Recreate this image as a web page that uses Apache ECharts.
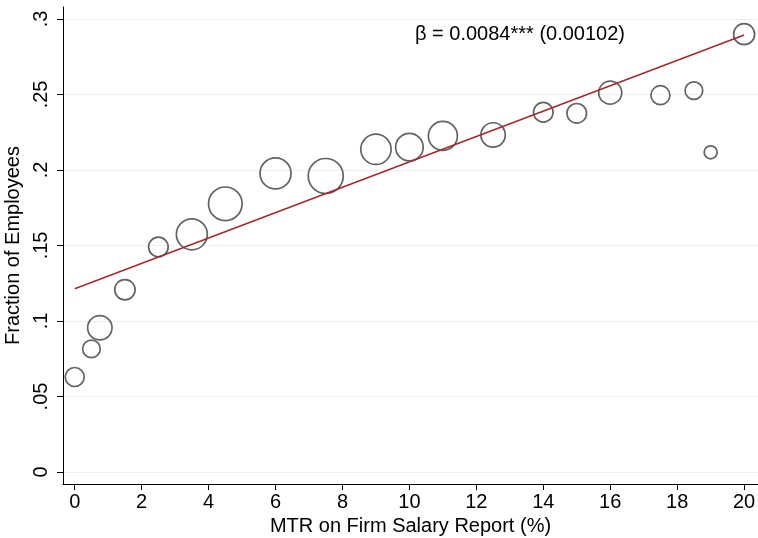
<!DOCTYPE html>
<html>
<head>
<meta charset="utf-8">
<script src="https://cdn.jsdelivr.net/npm/echarts@6/dist/echarts.min.js"></script>
<style>
  html, body { margin: 0; padding: 0; background: #fff; }
  #chart-container { width: 758px; height: 538px; }
</style>
</head>
<body>
<div id="chart-container"></div>
<script>
var dom = document.getElementById('chart-container');
var myChart = echarts.init(dom, null, { renderer: 'canvas' });

// MTR bins (%) and fraction of employees in each bin
const mtrBins = [0, 0.5, 0.75, 1.5, 2.5, 3.5, 4.5, 6, 7.5, 9, 10, 11, 12.5, 14, 15, 16, 17.5, 18.5, 19, 20];
const fraction = [0.0629, 0.0815, 0.0955, 0.1207, 0.1490, 0.1574, 0.1776, 0.1977, 0.1960, 0.2137,
                  0.2151, 0.2225, 0.2232, 0.2382, 0.2375, 0.2512, 0.2495, 0.2525, 0.2117, 0.2899];
// relative bin weight (bubble area)
const binWeight = [1.00, 0.86, 1.61, 1.14, 1.06, 2.56, 2.99, 2.56, 3.24, 2.46,
                   2.04, 2.25, 1.61, 1.06, 1.06, 1.44, 1.00, 0.86, 0.49, 1.21];
// linear fit endpoints
const fitLine = [[0, 0.1214], [20, 0.2894]];
const xTicks = [0, 2, 4, 6, 8, 10, 12, 14, 16, 18, 20];
const yTicks = [0, 0.05, 0.1, 0.15, 0.2, 0.25, 0.3];
const betaText = 'β = 0.0084*** (0.00102)';

const font = 'Liberation Sans, Arial, sans-serif';

let points = mtrBins.map(function (x, i) {
    return [x, fraction[i], binWeight[i]];
});

function yLabel(v) {
    if (v === 0) return '0';
    return String(+v.toFixed(2)).replace(/^0/, '');
}

var option = {
    backgroundColor: '#fff',
    animation: false,
    grid: {
        left: 63,
        right: 0,
        top: 7,
        bottom: 54,
        outerBoundsMode: 'none',
        containLabel: false
    },
    xAxis: {
        type: 'value',
        min: -0.35,
        max: 20.415,
        name: 'MTR on Firm Salary Report (%)',
        nameLocation: 'middle',
        nameGap: 28,
        nameTextStyle: { fontFamily: font, fontSize: 20, color: '#000' },
        axisLine: { onZero: false, lineStyle: { color: '#000', width: 1 } },
        axisTick: { customValues: xTicks, length: 6, lineStyle: { color: '#000' } },
        axisLabel: {
            customValues: xTicks,
            fontFamily: font, fontSize: 20, color: '#000', margin: 8
        },
        splitLine: { show: false }
    },
    yAxis: {
        type: 'value',
        min: -0.00795,
        max: 0.3079,
        name: 'Fraction of Employees',
        nameLocation: 'middle',
        nameGap: 35,
        nameTextStyle: { fontFamily: font, fontSize: 20, color: '#000' },
        axisLine: { onZero: false, lineStyle: { color: '#000', width: 1 } },
        axisTick: { customValues: yTicks, length: 6, lineStyle: { color: '#000' } },
        axisLabel: {
            customValues: yTicks,
            rotate: 90,
            fontFamily: font, fontSize: 20, color: '#000', margin: 12,
            formatter: yLabel
        },
        splitLine: { show: true, lineStyle: { color: '#e9f1f3', width: 1 } }
    },
    graphic: [{
        type: 'text',
        left: 415,
        top: 24,
        style: {
            text: betaText,
            fontFamily: font,
            fontSize: 20,
            fill: '#000'
        }
    }],
    series: [
        {
            type: 'scatter',
            data: points,
            symbol: 'circle',
            symbolSize: function (val) {
                return 2 * 10 * Math.sqrt(val[2]) - 1;
            },
            itemStyle: {
                color: 'rgba(0,0,0,0)',
                borderColor: '#3c3c3c',
                borderWidth: 1.7
            },
            z: 3
        },
        {
            type: 'line',
            data: fitLine,
            symbol: 'none',
            lineStyle: { color: '#a12a31', width: 1.6 },
            z: 4
        }
    ]
};

if (option && typeof option === 'object') {
    myChart.setOption(option);
}

window.addEventListener('resize', myChart.resize);
</script>
</body>
</html>
